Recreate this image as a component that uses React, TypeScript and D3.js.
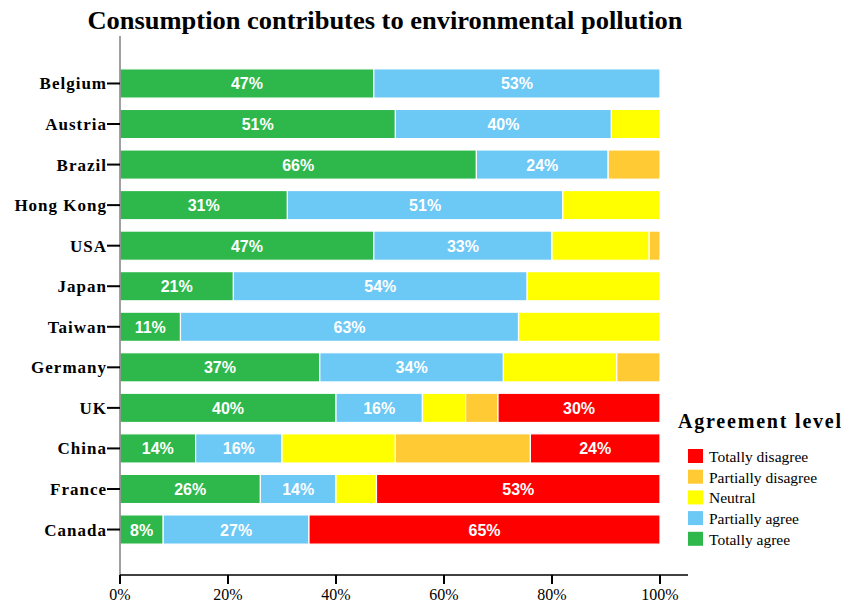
import React from "react";
import * as d3 from "d3";

const countries = ["Belgium", "Austria", "Brazil", "Hong Kong", "USA", "Japan", "Taiwan", "Germany", "UK", "China", "France", "Canada"];
const levels = ["Totally agree", "Partially agree", "Neutral", "Partially disagree", "Totally disagree"];
const totallyAgree = [47, 51, 66, 31, 47, 21, 11.2, 37, 40, 14, 26, 8];
const partiallyAgree = [53, 40, 24.4, 51, 33, 54.4, 62.6, 34, 16, 16, 14, 27];
const neutral = [0, 9, 0, 18, 18, 24.6, 26.2, 21, 8, 21, 7.5, 0];
const partiallyDisagree = [0, 0, 9.6, 0, 2, 0, 0, 8, 6, 25, 0, 0];
const totallyDisagree = [0, 0, 0, 0, 0, 0, 0, 0, 30, 24, 52.5, 65];
const xTicks = [0, 20, 40, 60, 80, 100];
const legendOrder = ["Totally disagree", "Partially disagree", "Neutral", "Partially agree", "Totally agree"];
const labeledLevels = ["Totally agree", "Partially agree", "Totally disagree"];

const colors: Record<string, string> = {
  "Totally agree": "#2EB84B",
  "Partially agree": "#6CC8F5",
  "Neutral": "#FFFF00",
  "Partially disagree": "#FFCA33",
  "Totally disagree": "#FF0000",
};

export default function App() {
  const W = 845, H = 605;
  const series = [totallyAgree, partiallyAgree, neutral, partiallyDisagree, totallyDisagree];
  const rows = countries.map((c, i) => {
    const r: any = { country: c };
    levels.forEach((l, j) => (r[l] = series[j][i]));
    return r;
  });
  const stacked = d3.stack<any>().keys(levels)(rows);
  const x = d3.scaleLinear().domain([0, 100]).range([120, 660]);
  const y = d3.scaleBand().domain(countries).range([63.2, 549.8]).paddingInner(0.28).paddingOuter(0.14);
  const axisY = 575;
  const serif = "'Liberation Serif', 'Times New Roman', serif";
  const sans = "'Liberation Sans', Arial, sans-serif";

  return (
    <svg width={W} height={H} style={{ position: "absolute", left: 0, top: 0, background: "#fff" }}>
      <text x={385} y={29} textAnchor="middle" fontFamily={serif} fontWeight="bold" fontSize={25} fill="#000" textLength={595} lengthAdjust="spacingAndGlyphs">
        Consumption contributes to environmental pollution
      </text>
      {stacked.map((s) => (
        <g key={s.key}>
          {s.map((d, i) => {
            const w = x(d[1]) - x(d[0]);
            if (w <= 0) return null;
            return (
              <rect key={i} x={x(d[0])} y={y(countries[i])!} width={w} height={y.bandwidth()} fill={colors[s.key]} stroke="#fff" strokeWidth={1.2} />
            );
          })}
        </g>
      ))}
      {stacked.map((s) =>
        labeledLevels.includes(s.key)
          ? s.map((d, i) => {
              const v = d[1] - d[0];
              if (v <= 0) return null;
              return (
                <text key={s.key + i} x={(x(d[0]) + x(d[1])) / 2} y={y(countries[i])! + y.bandwidth() / 2 + 6} textAnchor="middle" fontFamily={sans} fontWeight="bold" fontSize={16} fill="#fff">
                  {Math.round(v)}%
                </text>
              );
            })
          : null
      )}
      {/* y axis */}
      <line x1={120} x2={120} y1={36} y2={axisY} stroke="#808080" strokeWidth={1.5} />
      {countries.map((c) => {
        const cy = y(c)! + y.bandwidth() / 2;
        return (
          <g key={c}>
            <line x1={107} x2={120} y1={cy} y2={cy} stroke="#000" strokeWidth={2} />
            <text x={107} y={cy + 6} textAnchor="end" fontFamily={serif} fontWeight="bold" fontSize={17} letterSpacing={1} fill="#000">
              {c}
            </text>
          </g>
        );
      })}
      {/* x axis */}
      <line x1={120} x2={688} y1={axisY} y2={axisY} stroke="#000" strokeWidth={1.5} />
      {xTicks.map((t) => (
        <g key={t}>
          <line x1={x(t)} x2={x(t)} y1={axisY} y2={axisY + 9} stroke="#000" strokeWidth={2} />
          <text x={x(t)} y={axisY + 25} textAnchor="middle" fontFamily={serif} fontSize={16} fill="#000">
            {t}%
          </text>
        </g>
      ))}
      {/* legend */}
      <text x={678} y={428} fontFamily={serif} fontWeight="bold" fontSize={20} letterSpacing={1.8} fill="#000">
        Agreement level
      </text>
      {legendOrder.map((l, i) => (
        <g key={l}>
          <rect x={688} y={449 + i * 20.7} width={15} height={14} fill={colors[l]} />
          <text x={709} y={462 + i * 20.7} fontFamily={serif} fontSize={15.5} fill="#000">
            {l}
          </text>
        </g>
      ))}
    </svg>
  );
}
